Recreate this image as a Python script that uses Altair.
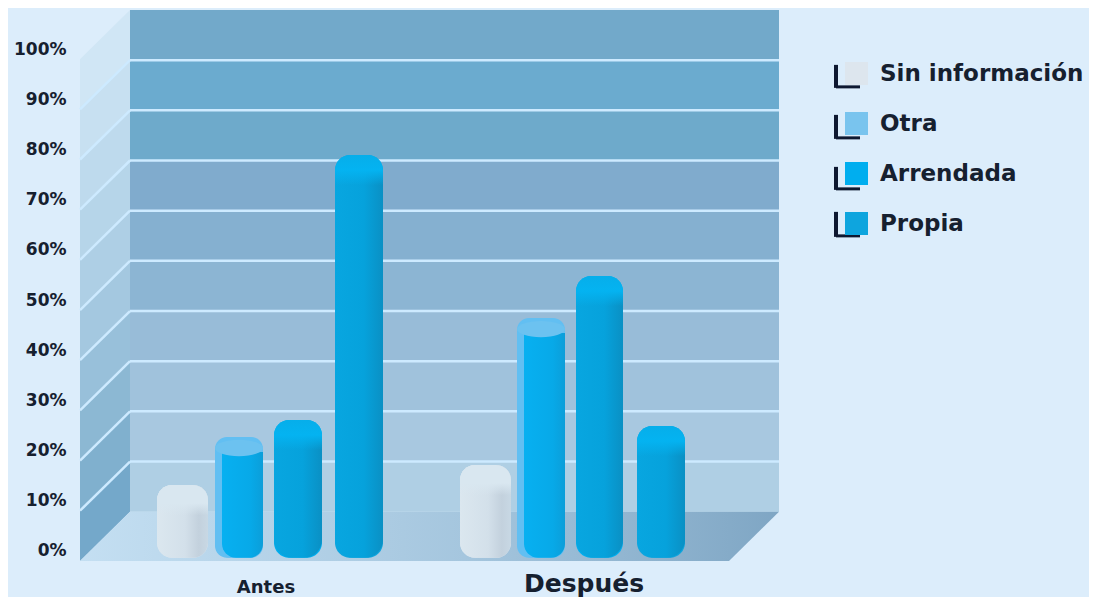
import altair as alt
import pandas as pd

# ---- values -----------------------------------------------------------
series = ["Sin información", "Otra", "Arrendada", "Propia"]
groups = ["Antes", "Después"]
antes = [15.1, 24.7, 28.1, 80.9]
despues = [19.1, 48.4, 56.8, 26.9]
levels = [0, 10, 20, 30, 40, 50, 60, 70, 80, 90]
grid_levels = [10, 20, 30, 40, 50, 60, 70, 80, 90]
ticks = [0, 10, 20, 30, 40, 50, 60, 70, 80, 90, 100]

# ---- layout (chart units: x = 1 per pixel from the front-left corner) --
DEPTH_X = 50
DEPTH_Y = 9.8
WALL_W = 649
BASE = 0.6
lefts = {"Antes": [77, 135, 194, 255], "Después": [380, 437, 496, 557]}
rights = {"Antes": [128, 183, 242, 303], "Después": [431, 485, 543, 605]}
group_centres = {"Antes": 186, "Después": 504}
group_label_px = {"Antes": 588, "Después": 584}

# ---- styling -----------------------------------------------------------
back_colors = ["#afcfe4", "#a8c8e0", "#a0c2dc", "#98bcd8", "#8cb5d3",
               "#85b0d0", "#80abcd", "#6eaacb", "#6babcf", "#72a9ca"]
side_colors = ["#74a8ca", "#80b0ce", "#8cb8d3", "#98c0da", "#a4c8e0",
               "#aecfe5", "#b6d5e9", "#bedaed", "#c7e0f1", "#d0e6f5"]
legend_colors = ["#dde6ee", "#79c4ee", "#00aeef", "#0ea5de"]
LINE = "#cdeaff"
BG = "#dcedfb"
INK = "#16202f"


def hgrad(c):
    return alt.Gradient(gradient="linear", x1=0, x2=1, y1=0, y2=0,
                        stops=[alt.GradientStop(offset=o, color=k) for o, k in c])


def vgrad(c):
    return alt.Gradient(gradient="linear", x1=0, x2=0, y1=0, y2=1,
                        stops=[alt.GradientStop(offset=o, color=k) for o, k in c])


xs = alt.Scale(domain=[-8, 1009], nice=False, zero=False)
ys = alt.Scale(domain=[-7, 110], nice=False, zero=False)
y_axis = alt.Axis(values=ticks, labelExpr="datum.value + '%'", domain=False,
                  ticks=False, grid=False, labelFont="DejaVu Sans",
                  labelFontWeight="bold", labelFontSize=17, labelColor=INK,
                  labelPadding=6, labelOffset=-10, title=None)
X = alt.X("x:Q", scale=xs, axis=None)
Y = alt.Y("y:Q", scale=ys, axis=y_axis, stack=None)
X2 = alt.X2("x2:Q")
Y2 = alt.Y2("y2:Q")

# ---- tables ------------------------------------------------------------
bars = []
for g, vals in zip(groups, [antes, despues]):
    for i, s in enumerate(series):
        bars.append({"group": g, "series": s, "x": lefts[g][i], "x2": rights[g][i],
                     "y": vals[i], "y2": BASE, "mid": (lefts[g][i] + rights[g][i]) / 2})
bars = pd.DataFrame(bars)


def of(s):
    return bars[bars.series == s]


back = pd.DataFrame({"x": DEPTH_X, "x2": DEPTH_X + WALL_W,
                     "y": [v + 10 + DEPTH_Y for v in levels],
                     "y2": [v + DEPTH_Y for v in levels],
                     "band": levels})
side = []
for v in levels:
    side.append({"band": v, "x": 0, "y": v + 10, "y2": v})
    side.append({"band": v, "x": DEPTH_X, "y": v + 10 + DEPTH_Y, "y2": v + DEPTH_Y})
side = pd.DataFrame(side)

diag = []
for v in grid_levels:
    diag.append({"lv": v, "x": 0, "y": v})
    diag.append({"lv": v, "x": DEPTH_X, "y": v + DEPTH_Y})
diag = pd.DataFrame(diag)
grid = pd.DataFrame({"x": DEPTH_X, "x2": DEPTH_X + WALL_W,
                     "y": [v + DEPTH_Y for v in grid_levels]})
floor = pd.DataFrame({"y": [0, DEPTH_Y], "x": [0, DEPTH_X],
                      "x2": [WALL_W, WALL_W + DEPTH_X]})

# ---- layers ------------------------------------------------------------
back_layer = alt.Chart(back).mark_rect().encode(
    x=X, x2=X2, y=Y, y2=Y2,
    fill=alt.Fill("band:O", scale=alt.Scale(domain=levels, range=back_colors), legend=None))
side_layer = alt.Chart(side).mark_area().encode(
    x=X, y=Y, y2=Y2,
    fill=alt.Fill("band:O", scale=alt.Scale(domain=levels, range=side_colors), legend=None))
floor_layer = alt.Chart(floor).mark_area(
    orient="horizontal",
    color=hgrad([(0, "#c4dff2"), (0.55, "#a5c6de"), (1, "#7fa6c4")])
).encode(y=Y, x=alt.X("x:Q", scale=xs, axis=None, stack=None), x2=X2)
grid_layer = alt.Chart(grid).mark_rule(color=LINE, strokeWidth=2.5).encode(x=X, x2=X2, y=Y)
diag_layer = alt.Chart(diag).mark_line(color=LINE, strokeWidth=2.5).encode(x=X, y=Y, detail="lv:O")

legend_layer = alt.Chart(bars).mark_bar(cornerRadius=15).encode(
    x=X, x2=X2, y=Y, y2=Y2,
    color=alt.Color("series:N", scale=alt.Scale(domain=series, range=legend_colors),
                    legend=alt.Legend(title=None, orient="none", legendX=773, legendY=53,
                                      symbolType="square", symbolSize=529, symbolStrokeWidth=0,
                                      labelFont="DejaVu Sans", labelFontWeight="bold",
                                      labelFontSize=23, labelColor=INK, labelOffset=12,
                                      rowPadding=26, padding=0, zindex=1,
                                      labelLimit=260)))

sin_df = of("Sin información")
sin_body = alt.Chart(sin_df).mark_bar(
    cornerRadius=15,
    color=hgrad([(0, "#dbe7ef"), (0.55, "#d3e0ea"), (0.82, "#c3d1dd"), (1, "#c8d8e4")])
).encode(x=X, x2=X2, y=Y, y2=Y2)
sin_cap = alt.Chart(sin_df.assign(y2=sin_df.y - 6)).mark_bar(
    cornerRadiusTopLeft=15, cornerRadiusTopRight=15,
    color=vgrad([(0, "#d9e7f0"), (0.6, "#d9e7f0"), (1, "rgba(217,231,240,0)")])
).encode(x=X, x2=X2, y=Y, y2=Y2)

otra_df = of("Otra")
otra_outer = alt.Chart(otra_df).mark_bar(cornerRadius=12, color="#62bff2").encode(
    x=X, x2=X2, y=Y, y2=Y2)
otra_inner = alt.Chart(otra_df.assign(x=otra_df.x + 7, y=otra_df.y - 3)).mark_bar(
    cornerRadiusBottomLeft=14, cornerRadiusBottomRight=14,
    color=hgrad([(0, "#07b0f1"), (0.7, "#07a9e8"), (1, "#0b9ed9")])
).encode(x=X, x2=X2, y=Y, y2=Y2)
otra_cap = alt.Chart(otra_df.assign(y=otra_df.y - 2.2)).mark_point(
    shape="M-1,0 A1,0.34 0 1 0 1,0 A1,0.34 0 1 0 -1,0 Z",
    filled=True, opacity=1, size=2304, color="#6cc2f0", strokeWidth=0
).encode(x=alt.X("mid:Q", scale=xs, axis=None), y=Y)

solid_df = bars[bars.series.isin(["Arrendada", "Propia"])]
solid_body = alt.Chart(solid_df).mark_bar(
    cornerRadius=18,
    color=hgrad([(0, "#08a6e0"), (0.6, "#06a2dc"), (1, "#0a90c4")])
).encode(x=X, x2=X2, y=Y, y2=Y2)
solid_cap = alt.Chart(solid_df.assign(y2=solid_df.y - 6)).mark_bar(
    cornerRadiusTopLeft=18, cornerRadiusTopRight=18,
    color=vgrad([(0, "#06aeea"), (0.5, "#04b3f1"), (1, "rgba(4,179,241,0)")])
).encode(x=X, x2=X2, y=Y, y2=Y2)

PY = 5.017


def uy(px):
    return (561 - px) / PY


legend_top = [65, 115, 167, 212]
legend_bot = [88, 139, 190, 237]
l_v = pd.DataFrame({"x": 756, "y": [uy(p) for p in legend_top], "y2": [uy(p) for p in legend_bot]})
l_h = pd.DataFrame({"x": 756, "x2": 780, "y": [uy(p - 1) for p in legend_bot]})
l_v_layer = alt.Chart(l_v).mark_rule(color="#0e1830", strokeWidth=4).encode(x=X, y=Y, y2=Y2)
l_h_layer = alt.Chart(l_h).mark_rule(color="#0e1830", strokeWidth=3).encode(x=X, x2=X2, y=Y)

lab = pd.DataFrame({"t": groups, "x": [group_centres[g] for g in groups],
                    "y": [uy(group_label_px[g]) for g in groups]})
lab_a = alt.Chart(lab[lab.t == "Antes"]).mark_text(
    font="DejaVu Sans", fontWeight="bold", fontSize=18, color=INK
).encode(x=X, y=Y, text="t:N")
lab_d = alt.Chart(lab[lab.t == "Después"]).mark_text(
    font="DejaVu Sans", fontWeight="bold", fontSize=25, color=INK
).encode(x=X, y=Y, text="t:N")

chart = alt.layer(
    back_layer, side_layer, floor_layer, grid_layer, diag_layer,
    l_v_layer, l_h_layer,
    legend_layer, sin_body, sin_cap, otra_outer, otra_inner, otra_cap,
    solid_body, solid_cap, lab_a, lab_d
).resolve_scale(fill="independent").properties(
    width=1017, height=587, background=BG,
    autosize=alt.AutoSizeParams(type="none"),
    padding={"left": 64, "top": 1, "right": 0, "bottom": 1},
).configure_view(stroke=None)

chart.save("out.html", embed_options={"renderer": "svg", "actions": False})
